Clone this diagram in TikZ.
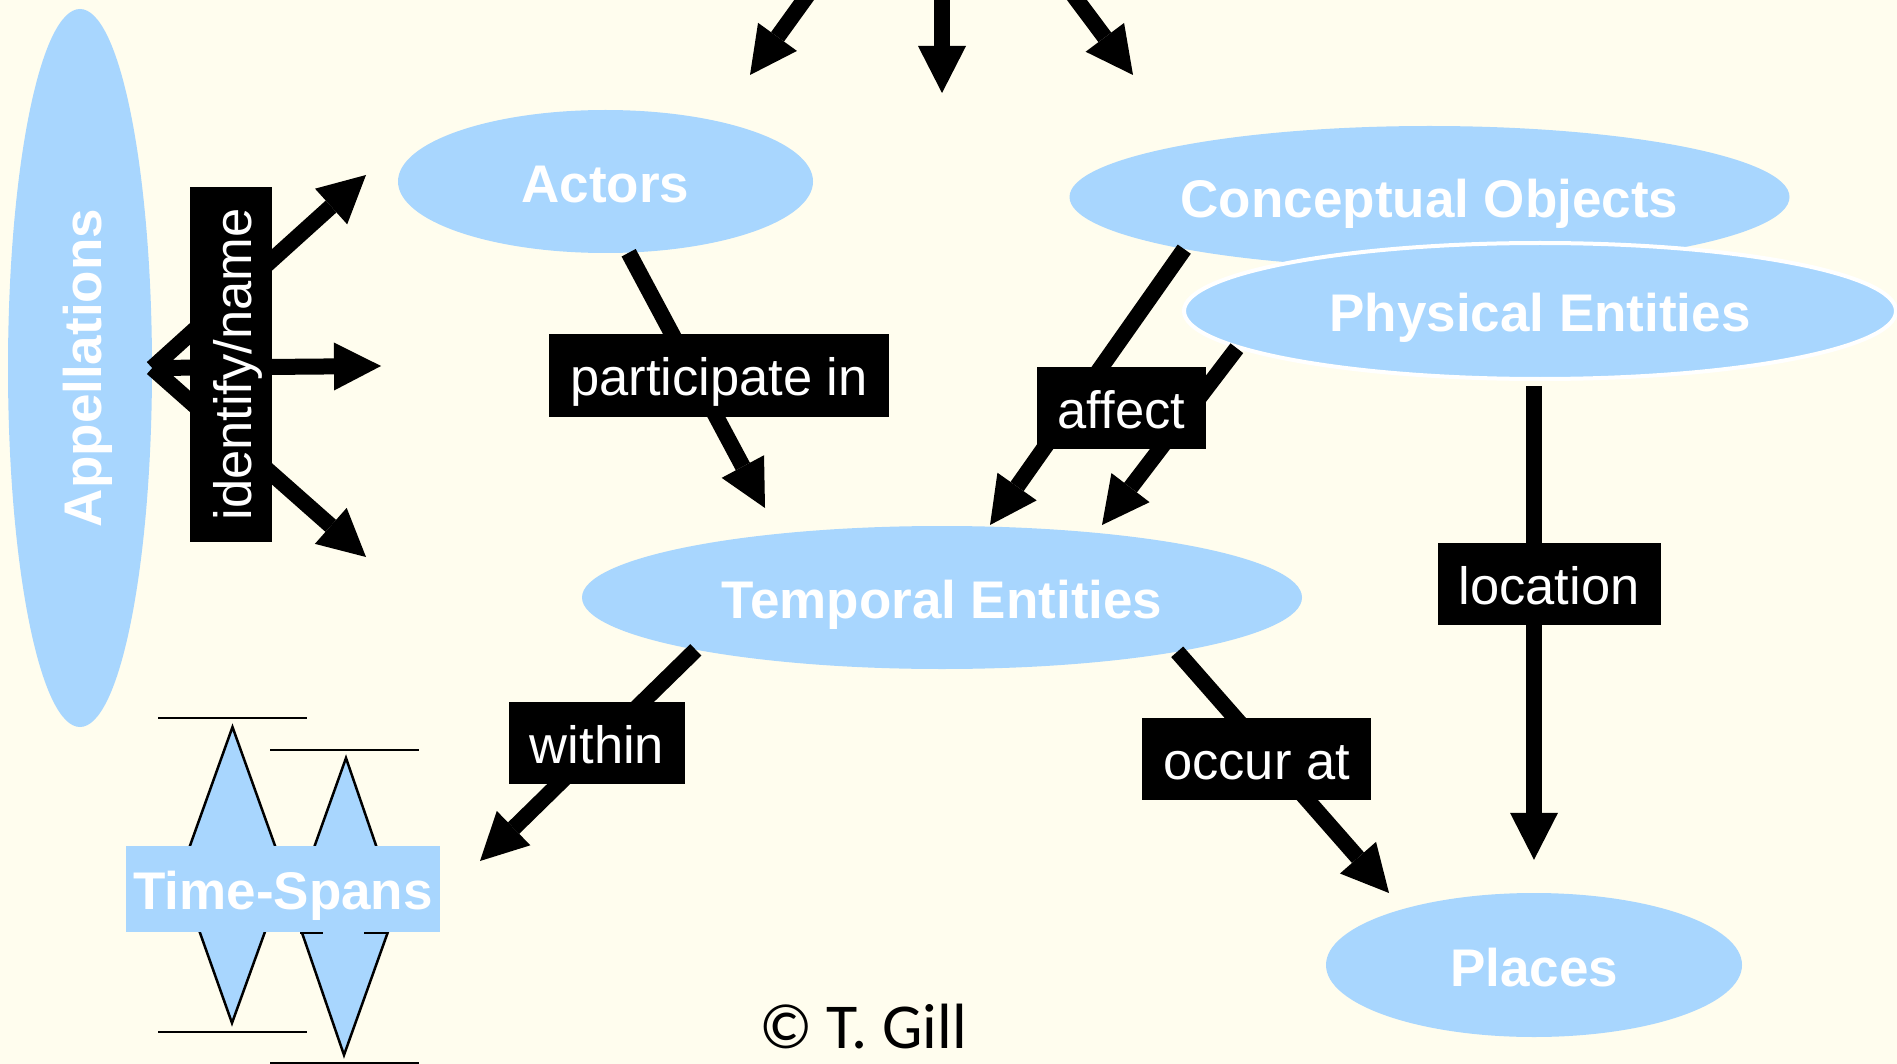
\documentclass[tikz,border=0pt]{standalone}
\usepackage{fontspec}
\setmainfont{Liberation Sans}
\newfontfamily\gillfont{Carlito}
\usetikzlibrary{arrows.meta,shapes.geometric}

\definecolor{paper}{HTML}{FFFDEE}
\definecolor{skyfill}{HTML}{A8D6FE}

\tikzset{
  entity/.style={ellipse, fill=skyfill, inner sep=0pt, text=white,
    font=\fontsize{53}{60}\selectfont\bfseries, text height=42pt, text depth=0pt},
  relbox/.style={fill=black, text=white, font=\fontsize{52.5}{60}\selectfont,
    inner xsep=21pt, inner ysep=0pt, text height=61pt, text depth=21pt},
  rel/.style={line width=16pt, -{Triangle[width=48pt,length=47pt,line width=0pt]}},
  span/.style={draw=black, line width=2.5pt, fill=skyfill},
  tick/.style={line width=2.5pt}
}

\begin{document}
\begin{tikzpicture}[x=1pt,y=-1pt]
\useasboundingbox (0,0) rectangle (1897,1064);
\clip (0,0) rectangle (1897,1064);
\fill[paper] (0,0) rectangle (1897,1064);

% Time-Spans
\draw[tick] (158,718) -- (307,718);
\draw[tick] (158,1032) -- (307,1032);
\draw[tick] (270,750) -- (419,750);
\draw[tick] (270,1063) -- (419,1063);
\draw[span] (232.5,727) -- (285.5,875) -- (232,1023) -- (179.5,875) -- cycle;
\draw[span] (346,758) -- (397,906.5) -- (344,1055) -- (293,906.5) -- cycle;
\draw[tick] (300,933) -- (323,933);
\draw[tick] (364,933) -- (387,933);
\node[fill=skyfill, text=white, font=\fontsize{53}{60}\selectfont\bfseries,
  minimum width=314pt, minimum height=86pt, inner sep=0pt,
  text height=63pt, text depth=23pt] (spans) at (283,889) {Time-Spans};

% entities
\node[entity, rotate=90, minimum width=718pt, minimum height=144pt] (app) at (80,368) {Appellations};
\node[entity, minimum width=415pt, minimum height=143pt] (actors) at (605.5,181.5) {Actors};
\node[entity, minimum width=720pt, minimum height=142pt] (co) at (1429.5,197) {Conceptual Objects};
\node[entity, draw=white, line width=4pt, minimum width=712pt, minimum height=136pt] (pe) at (1540,311) {Physical Entities};
\node[entity, minimum width=720pt, minimum height=143pt] (te) at (942,597.5) {Temporal Entities};
\node[entity, minimum width=416pt, minimum height=144pt] (places) at (1534,965) {Places};

% arrow ends
\coordinate (topL) at (833,-40);
\coordinate (topM) at (942,-40);
\coordinate (topR) at (1047,-40);
\coordinate (tipL) at (750,75);
\coordinate (tipM) at (942,93);
\coordinate (tipR) at (1133,75);
\coordinate (idUp) at (366,175);
\coordinate (idMid) at (381,366);
\coordinate (idDown) at (366,557);
\coordinate (partTip) at (765,508);
\coordinate (affTipA) at (990,525);
\coordinate (affTipB) at (1102,525);
\coordinate (withinTip) at (480,861);
\coordinate (occurTip) at (1389,893);

% arrows
\draw[rel] (topL) -- (tipL);
\draw[rel] (topM) -- (tipM);
\draw[rel] (topR) -- (tipR);
\draw[rel] (app.south) -- (idUp);
\draw[rel] (app.south) -- (idMid);
\draw[rel] (app.south) -- (idDown);
\draw[rel] (actors.-72) -- (partTip);
\draw[rel] (co.192) -- (affTipA);
\draw[rel] (pe.187) -- (affTipB);
\draw[rel] (te.192) -- (withinTip);
\draw[rel] (te.-13) -- (occurTip);
\draw[rel, shorten <=5pt, shorten >=33pt] (pe.south -| places.north) -- (places.north);

% labels
\node[relbox, rotate=90] (idname) at (231,364.5) {identify/name};
\node[relbox] (part) at (719,375.5) {participate in};
\node[relbox] (affect) at (1121.5,408) {affect};
\node[relbox] (within) at (597,743) {within};
\node[relbox] (occur) at (1256.5,759) {occur at};
\node[relbox] (loc) at (1549,584) {location};

\node[font=\gillfont\fontsize{64}{70}\selectfont, anchor=base] (credit) at (863,1048) {© T. Gill};
\end{tikzpicture}
\end{document}
